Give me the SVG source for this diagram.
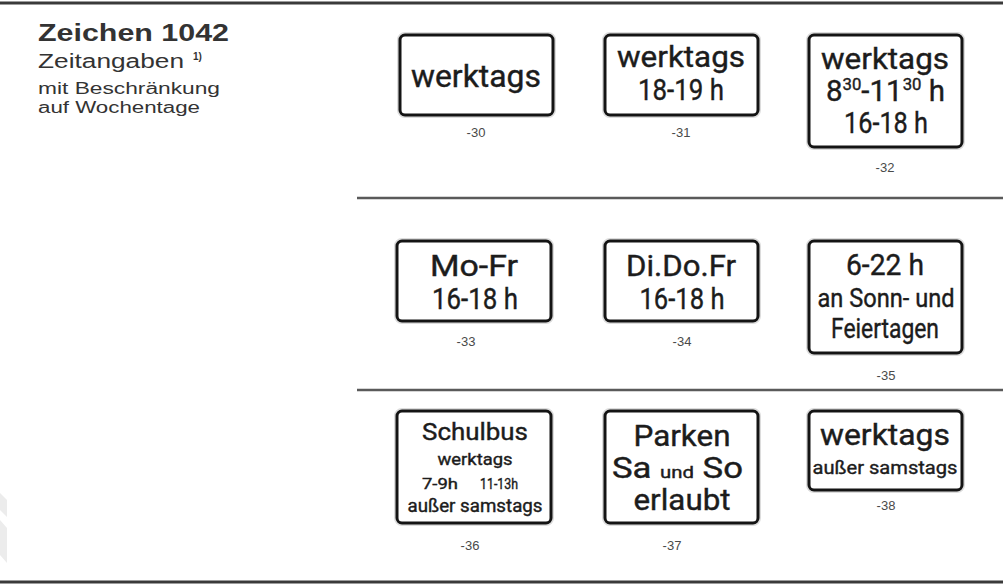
<svg xmlns="http://www.w3.org/2000/svg" width="1003" height="585" viewBox="0 0 1003 585">
<style>
.bg{fill:#ffffff}
.rule{stroke:#3a3a3a;stroke-width:3;fill:none}
.sep{stroke:#5a5a5a;stroke-width:2.5;fill:none}
.box{fill:#ffffff;stroke:#141414;stroke-width:3}
.halo{fill:none;stroke:#dcdcdc;stroke-width:2}
.s{font-family:Roboto,"DejaVu Sans",sans-serif;font-weight:400;fill:#1c1c1c;text-anchor:middle;stroke:#1c1c1c;stroke-width:0.4}
.sl{font-family:Roboto,"DejaVu Sans",sans-serif;font-weight:400;fill:#1c1c1c;text-anchor:start;stroke:#1c1c1c;stroke-width:0.4}
.lbl{font-family:"Liberation Sans",Arial,sans-serif;font-size:13px;fill:#4a4a4a;text-anchor:middle}
.t{font-family:"Liberation Sans",Arial,sans-serif;fill:#333333}
.wm{fill:#ececec}
</style>
<rect class="bg" x="0" y="0" width="1003" height="585"/>
<g id="watermark">
<polygon class="wm" points="0,493 7,500 7,517 0,510"/>
<polygon class="wm" points="0,520 7,528 7,563 0,555"/>
</g>
<g id="rules">
<line class="rule" x1="0" y1="3" x2="1003" y2="3"/>
<line class="sep" x1="357" y1="198" x2="1003" y2="198"/>
<line class="sep" x1="357" y1="390" x2="1003" y2="390"/>
<line class="rule" x1="0" y1="582" x2="1003" y2="582"/>
</g>
<g id="title">
<text class="t" x="38" y="41" font-size="24" font-weight="bold" fill="#222" textLength="191" lengthAdjust="spacingAndGlyphs">Zeichen 1042</text>
<text class="t" x="38" y="68" font-size="20" textLength="146" lengthAdjust="spacingAndGlyphs">Zeitangaben</text>
<text class="t" x="193" y="60" font-size="10" font-weight="bold">1)</text>
<text class="t" x="38" y="94" font-size="16" textLength="182" lengthAdjust="spacingAndGlyphs">mit Beschränkung</text>
<text class="t" x="38" y="113" font-size="16" textLength="162" lengthAdjust="spacingAndGlyphs">auf Wochentage</text>
</g>
<g id="sign-30">
<rect class="halo" x="398" y="33" width="157" height="84" rx="7"/>
<rect class="box" x="400" y="35" width="153" height="80" rx="5"/>
<text class="s" x="476" y="87" font-size="31" textLength="130" lengthAdjust="spacingAndGlyphs">werktags</text>
<text class="lbl" x="476" y="137">-30</text>
</g>
<g id="sign-31">
<rect class="halo" x="603" y="33" width="157" height="84" rx="7"/>
<rect class="box" x="605" y="35" width="153" height="80" rx="5"/>
<text class="s" x="681" y="67" font-size="30" textLength="128" lengthAdjust="spacingAndGlyphs">werktags</text>
<text class="s" x="681" y="100" font-size="30" textLength="86" lengthAdjust="spacingAndGlyphs">18-19 h</text>
<text class="lbl" x="681" y="137">-31</text>
</g>
<g id="sign-32">
<rect class="halo" x="807" y="33" width="157" height="116" rx="7"/>
<rect class="box" x="809" y="35" width="153" height="112" rx="5"/>
<text class="s" x="885" y="69" font-size="30" textLength="128" lengthAdjust="spacingAndGlyphs">werktags</text>
<text class="sl" x="826" y="101" font-size="30" textLength="119" lengthAdjust="spacingAndGlyphs">8<tspan font-size="17" dy="-11">30</tspan><tspan dy="11">-11</tspan><tspan font-size="17" dy="-11">30</tspan><tspan dy="11"> h</tspan></text>
<text class="s" x="886" y="133" font-size="30" textLength="84" lengthAdjust="spacingAndGlyphs">16-18 h</text>
<text class="lbl" x="885" y="172">-32</text>
</g>
<g id="sign-33">
<rect class="halo" x="395" y="239" width="158" height="84" rx="7"/>
<rect class="box" x="397" y="241" width="154" height="80" rx="5"/>
<text class="s" x="474" y="276" font-size="30" textLength="88" lengthAdjust="spacingAndGlyphs">Mo-Fr</text>
<text class="s" x="475" y="309" font-size="30" textLength="86" lengthAdjust="spacingAndGlyphs">16-18 h</text>
<text class="lbl" x="466" y="346">-33</text>
</g>
<g id="sign-34">
<rect class="halo" x="603" y="239" width="157" height="84" rx="7"/>
<rect class="box" x="605" y="241" width="153" height="80" rx="5"/>
<text class="s" x="681" y="276" font-size="30" textLength="110" lengthAdjust="spacingAndGlyphs">Di.Do.Fr</text>
<text class="s" x="682" y="309" font-size="30" textLength="85" lengthAdjust="spacingAndGlyphs">16-18 h</text>
<text class="lbl" x="682" y="346">-34</text>
</g>
<g id="sign-35">
<rect class="halo" x="807" y="239" width="157" height="116" rx="7"/>
<rect class="box" x="809" y="241" width="153" height="112" rx="5"/>
<text class="s" x="885" y="275" font-size="30" textLength="78" lengthAdjust="spacingAndGlyphs">6-22 h</text>
<text class="s" x="886" y="307" font-size="26" textLength="137" lengthAdjust="spacingAndGlyphs">an Sonn- und</text>
<text class="s" x="885" y="338" font-size="27" textLength="108" lengthAdjust="spacingAndGlyphs">Feiertagen</text>
<text class="lbl" x="886" y="380">-35</text>
</g>
<g id="sign-36">
<rect class="halo" x="395" y="409" width="158" height="116" rx="7"/>
<rect class="box" x="397" y="411" width="154" height="112" rx="5"/>
<text class="s" x="475" y="440" font-size="24" textLength="106" lengthAdjust="spacingAndGlyphs">Schulbus</text>
<text class="s" x="475" y="465" font-size="17" textLength="75" lengthAdjust="spacingAndGlyphs">werktags</text>
<text class="s" x="440" y="489" font-size="15" textLength="36" lengthAdjust="spacingAndGlyphs">7-9h</text>
<text class="s" x="499" y="489" font-size="15" textLength="38" lengthAdjust="spacingAndGlyphs">11-13h</text>
<text class="s" x="475" y="512" font-size="18" textLength="135" lengthAdjust="spacingAndGlyphs">außer  samstags</text>
<text class="lbl" x="470" y="550">-36</text>
</g>
<g id="sign-37">
<rect class="halo" x="603" y="409" width="157" height="116" rx="7"/>
<rect class="box" x="605" y="411" width="153" height="112" rx="5"/>
<text class="s" x="682" y="446" font-size="29" textLength="97" lengthAdjust="spacingAndGlyphs">Parken</text>
<text class="sl" x="612" y="478" font-size="29" textLength="131" lengthAdjust="spacingAndGlyphs">Sa <tspan font-size="17">und</tspan> So</text>
<text class="s" x="682" y="510" font-size="29" textLength="97" lengthAdjust="spacingAndGlyphs">erlaubt</text>
<text class="lbl" x="672" y="550">-37</text>
</g>
<g id="sign-38">
<rect class="halo" x="807" y="409" width="157" height="83" rx="7"/>
<rect class="box" x="809" y="411" width="153" height="79" rx="5"/>
<text class="s" x="885" y="445" font-size="30" textLength="130" lengthAdjust="spacingAndGlyphs">werktags</text>
<text class="s" x="885" y="474" font-size="19" textLength="145" lengthAdjust="spacingAndGlyphs">außer  samstags</text>
<text class="lbl" x="886" y="510">-38</text>
</g>
</svg>
